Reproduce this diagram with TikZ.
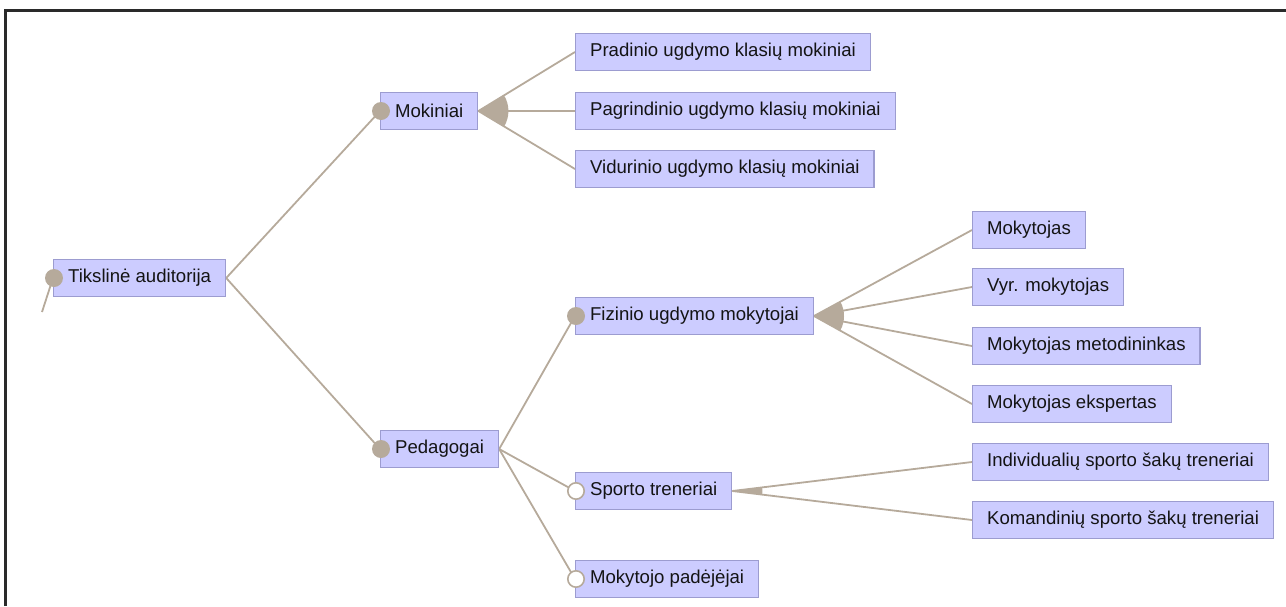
\documentclass[tikz,border=0pt]{standalone}
\usepackage{fontspec}
\setmainfont{Liberation Sans}
\usetikzlibrary{calc}
\definecolor{boxfill}{HTML}{CCCCFF}
\definecolor{boxline}{HTML}{9C9CD0}
\definecolor{taupe}{HTML}{B6AA9B}
\definecolor{framec}{HTML}{2A2A2A}
\tikzset{
  box/.style={draw=boxline, fill=boxfill, line width=1.2pt, anchor=west,
    minimum height=37, inner xsep=14.5, inner ysep=0,
    font=\fontsize{18.6}{22}\selectfont, text=black!92},
  link/.style={draw=taupe, line width=1.8pt},
  fan/.style={fill=taupe},
  fulldot/.style={fill=taupe},
  opendot/.style={fill=white, draw=taupe, line width=1.6pt},
}
% filled sector at an apex, opening between the first and the last child
\newcommand\fanwedge[3]{%
  \fill[fan] let \p1=(#1), \p2=(#2), \p3=(#3),
    \n1={atan2(\y2-\y1,\x2-\x1)}, \n2={atan2(\y3-\y1,\x3-\x1)} in
    (\p1) -- ++(\n2:30) arc[start angle=\n2, end angle=\n1, radius=30] -- cycle;}
\begin{document}
\begin{tikzpicture}[x=1pt, y=1pt]
\useasboundingbox (0,0) rectangle (1286,-606);
% frame
\draw[framec, line width=2.2pt] (5.5,-606) -- (5.5,-10.5) -- (1286,-10.5);

% nodes
\node[box] (root) at (53,-278) {Tikslinė auditorija};
\node[box] (mok)  at (380,-111) {Mokiniai};
\node[box] (m1)   at (575,-52)  {Pradinio ugdymo klasių mokiniai};
\node[box] (m2)   at (575,-111) {Pagrindinio ugdymo klasių mokiniai};
\node[box] (m3)   at (575,-169) {Vidurinio ugdymo klasių mokiniai};
\node[box] (ped)  at (380,-449) {Pedagogai};
\node[box] (fiz)  at (575,-316) {Fizinio ugdymo mokytojai};
\node[box] (spt)  at (575,-491) {Sporto treneriai};
\node[box] (pad)  at (575,-579) {Mokytojo padėjėjai};
\node[box] (f1)   at (972,-230) {Mokytojas};
\node[box] (f2)   at (972,-287) {Vyr. mokytojas};
\node[box] (f3)   at (972,-346) {Mokytojas metodininkas};
\node[box] (f4)   at (972,-404) {Mokytojas ekspertas};
\node[box] (s1)   at (972,-462) {Individualių sporto šakų treneriai};
\node[box] (s2)   at (972,-520) {Komandinių sporto šakų treneriai};
\coordinate (up) at (42,-312);

% connectors and fans
\draw[link] (root.west) -- (up);
\draw[link] (root.east) -- (mok.west);
\draw[link] (root.east) -- (ped.west);
\foreach \c in {m1,m2,m3} \draw[link] (mok.east) -- (\c.west);
\fanwedge{mok.east}{m1.west}{m3.west}
\foreach \c in {fiz,spt,pad} \draw[link] (ped.east) -- (\c.west);
\foreach \c in {f1,f2,f3,f4} \draw[link] (fiz.east) -- (\c.west);
\fanwedge{fiz.east}{f1.west}{f4.west}
\foreach \c in {s1,s2} \draw[link] (spt.east) -- (\c.west);
\fanwedge{spt.east}{s1.west}{s2.west}

% redraw boxes above the connectors
\foreach \n/\t in {root/Tikslinė auditorija, mok/Mokiniai,
  m1/Pradinio ugdymo klasių mokiniai, m2/Pagrindinio ugdymo klasių mokiniai,
  m3/Vidurinio ugdymo klasių mokiniai, ped/Pedagogai,
  fiz/Fizinio ugdymo mokytojai, spt/Sporto treneriai, pad/Mokytojo padėjėjai,
  f1/Mokytojas, f2/Vyr. mokytojas, f3/Mokytojas metodininkas,
  f4/Mokytojas ekspertas, s1/Individualių sporto šakų treneriai,
  s2/Komandinių sporto šakų treneriai}
  \node[box] at (\n.west) {\t};

% branch markers
\foreach \n in {root,mok,ped,fiz} \fill[fulldot] ($(\n.west)+(1,0)$) circle (9);
\foreach \n in {spt,pad} \filldraw[opendot] ($(\n.west)+(1,0)$) circle (8.2);
\end{tikzpicture}
\end{document}
